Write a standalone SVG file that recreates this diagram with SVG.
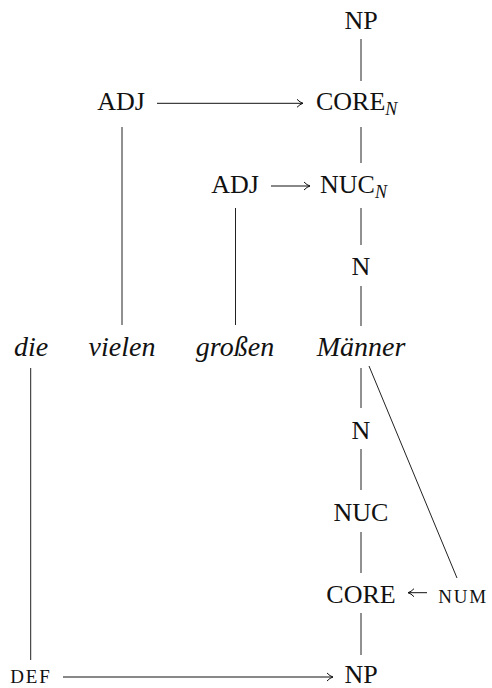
<svg xmlns="http://www.w3.org/2000/svg" width="492" height="688" viewBox="0 0 492 688">
  <style>
    text { font-family: "Liberation Serif", "DejaVu Serif", serif; font-size: 26px; fill: #111; }
    .it { font-style: italic; font-size: 28px; }
    .sub { font-style: italic; font-size: 18px; }
    .sc { font-size: 19px; letter-spacing: 1.8px; }
    .edge { stroke: #222; stroke-width: 1; fill: none; }
    .arrow { stroke: #111; stroke-width: 1; fill: none; marker-end: url(#tip); }
  </style>
  <defs>
    <marker id="tip" markerWidth="10" markerHeight="10" refX="0" refY="0" viewBox="-8 -5 10 10" orient="auto" markerUnits="userSpaceOnUse">
      <path d="M -6 -4 Q -3 -0.8 0 0 Q -3 0.8 -6 4" stroke="#111" stroke-width="1" fill="none"/>
    </marker>
  </defs>

  <!-- tree edges and arrows -->
  <g id="connectors">
    <line class="edge" x1="361" y1="39" x2="361" y2="81"/>
    <line class="edge" x1="361" y1="127" x2="361" y2="163"/>
    <line class="edge" x1="361" y1="208" x2="361" y2="245"/>
    <line class="edge" x1="361" y1="286" x2="361" y2="326"/>
    <line class="edge" x1="122" y1="127" x2="122" y2="325"/>
    <line class="edge" x1="235.5" y1="208" x2="235.5" y2="325"/>
    <line class="edge" x1="30.7" y1="368" x2="30.7" y2="660"/>
    <line class="edge" x1="361" y1="368" x2="361" y2="408"/>
    <line class="edge" x1="361" y1="449" x2="361" y2="490"/>
    <line class="edge" x1="361" y1="532" x2="361" y2="573"/>
    <line class="edge" x1="361" y1="613" x2="361" y2="655"/>
    <line class="edge" x1="369" y1="366" x2="457" y2="578"/>
    <line class="arrow" x1="157" y1="103.3" x2="303" y2="103.3"/>
    <line class="arrow" x1="271" y1="186" x2="310" y2="186"/>
    <line class="arrow" x1="427" y1="592.7" x2="408" y2="592.7"/>
    <line class="arrow" x1="63" y1="677" x2="333" y2="677"/>
  </g>

  <!-- upper tree: modifiers and NP projection -->
  <g id="np-top"><text x="361" y="29" text-anchor="middle">NP</text></g>
  <g id="core-n"><text x="316" y="110">CORE<tspan class="sub" dy="5">N</tspan></text></g>
  <g id="adj-1"><text x="121" y="110" text-anchor="middle">ADJ</text></g>
  <g id="nuc-n"><text x="320" y="193">NUC<tspan class="sub" dy="5">N</tspan></text></g>
  <g id="adj-2"><text x="235" y="193" text-anchor="middle">ADJ</text></g>
  <g id="n-top"><text x="361" y="275" text-anchor="middle">N</text></g>

  <!-- words -->
  <g id="w-die"><text class="it" x="31" y="356" text-anchor="middle">die</text></g>
  <g id="w-vielen"><text class="it" x="122" y="356" text-anchor="middle">vielen</text></g>
  <g id="w-grossen"><text class="it" x="235" y="356" text-anchor="middle">großen</text></g>
  <g id="w-maenner"><text class="it" x="361" y="356" text-anchor="middle">Männer</text></g>

  <!-- lower tree: operators -->
  <g id="n-bottom"><text x="361" y="439" text-anchor="middle">N</text></g>
  <g id="nuc"><text x="361" y="521" text-anchor="middle">NUC</text></g>
  <g id="core"><text x="361" y="603" text-anchor="middle">CORE</text></g>
  <g id="num"><text class="sc" x="463" y="603" text-anchor="middle">NUM</text></g>
  <g id="np-bottom"><text x="361" y="683" text-anchor="middle">NP</text></g>
  <g id="def"><text class="sc" x="31" y="683" text-anchor="middle">DEF</text></g>
</svg>
